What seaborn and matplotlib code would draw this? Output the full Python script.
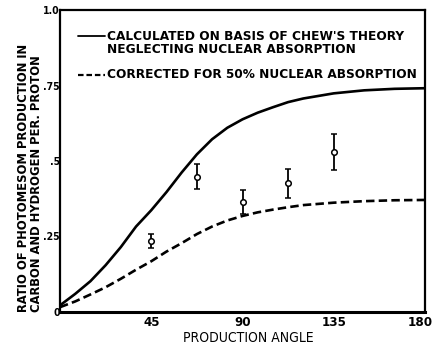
import matplotlib
matplotlib.use("Agg")
import matplotlib.pyplot as plt
import matplotlib.transforms as mtransforms
import seaborn as sns
import pandas as pd
from matplotlib.lines import Line2D

# Production angle (degrees) at which the theory curves are tabulated
angle = [0, 7.5, 15, 22.5, 30, 37.5, 45, 52.5, 60, 67.5, 75, 82.5, 90,
         97.5, 105, 112.5, 120, 135, 150, 165, 180]
# Chew's theory, no nuclear absorption
chew_ratio = [0.022, 0.060, 0.102, 0.155, 0.215, 0.283, 0.337, 0.397, 0.462,
              0.522, 0.572, 0.610, 0.638, 0.660, 0.678, 0.695, 0.707, 0.724,
              0.734, 0.739, 0.741]
# Same theory corrected for 50% nuclear absorption
corrected_ratio = [0.016, 0.035, 0.058, 0.082, 0.110, 0.140, 0.168, 0.200,
                   0.228, 0.258, 0.283, 0.303, 0.318, 0.330, 0.339, 0.347,
                   0.354, 0.362, 0.367, 0.370, 0.371]

# Measured ratios with their uncertainties
meas_angle = [45, 67.5, 90, 112.5, 135]
meas_ratio = [0.236, 0.448, 0.365, 0.426, 0.529]
meas_err = [0.023, 0.042, 0.040, 0.047, 0.060]

x_ticks = [45, 90, 135, 180]
x_tick_labels = ["45", "90", "135", "180"]
y_ticks = [0, 0.25, 0.5, 0.75, 1.0]
y_tick_labels = ["0", ".25", ".5", ".75", "1.0"]

sns.set_style("white")
plt.rcParams["font.family"] = ["DejaVu Sans"]
plt.rcParams["font.weight"] = "bold"
plt.rcParams["font.stretch"] = "condensed"
for key in ["text.color", "axes.labelcolor", "xtick.color", "ytick.color",
            "axes.edgecolor"]:
    plt.rcParams[key] = "black"

curves = pd.DataFrame({"angle": angle, "chew": chew_ratio,
                       "corrected": corrected_ratio})

fig = plt.figure(figsize=(4.33, 3.45), dpi=100)
ax = fig.add_axes([60 / 433, 33 / 345, 365 / 433, 302 / 345])

sns.lineplot(data=curves, x="angle", y="chew", ax=ax, color="black",
             linewidth=1.9)
sns.lineplot(data=curves, x="angle", y="corrected", ax=ax, color="black",
             linewidth=1.9, linestyle=(0, (3.2, 1.6)))
ax.errorbar(meas_angle, meas_ratio, yerr=meas_err, fmt="o", color="black",
            markerfacecolor="white", markeredgecolor="black", markersize=4,
            markeredgewidth=1.1, elinewidth=1.3, capsize=2.5, capthick=1.3)

ax.set_xlim(0, 180)
ax.set_ylim(0, 1.0)
ax.set_xticks(x_ticks)
ax.set_xticklabels(x_tick_labels)
ax.set_yticks(y_ticks)
ax.set_yticklabels(y_tick_labels)
ax.tick_params(axis="x", direction="in", length=9, width=1.3, pad=3,
               labelsize=9.5)
ax.tick_params(axis="y", direction="in", length=10, width=1.3, pad=0,
               labelsize=7.5)
# nudge the last angle label so it stays inside the figure
last = ax.get_xticklabels()[-1]
last.set_transform(last.get_transform() + mtransforms.ScaledTranslation(
    -5 / 100, 0, fig.dpi_scale_trans))
for side in ["left", "bottom", "right", "top"]:
    ax.spines[side].set_visible(True)
    ax.spines[side].set_color("black")
    ax.spines[side].set_linewidth(1.6)
ax.spines["bottom"].set_linewidth(2.2)

ax.set_xlabel("PRODUCTION ANGLE", fontsize=10)
ax.xaxis.set_label_coords(0.515, -0.063)
ax.set_ylabel("")

fig.text(30 / 433, 1 - 312 / 345,
         "RATIO OF PHOTOMESOM PRODUCTION IN\nCARBON AND HYDROGEN PER. PROTON",
         rotation=90, ha="center", va="bottom", multialignment="left",
         fontsize=9.3, linespacing=1.0)

# Key for the two curves
key_x0, key_x1, key_tx = 0.048, 0.123, 0.128
ax.add_line(Line2D([key_x0, key_x1], [0.915, 0.915], transform=ax.transAxes,
                   color="black", linewidth=1.3))
ax.text(key_tx, 0.935,
        "CALCULATED ON BASIS OF CHEW'S THEORY\nNEGLECTING NUCLEAR ABSORPTION",
        transform=ax.transAxes, ha="left", va="top", fontsize=9.7,
        linespacing=1.0)
ax.add_line(Line2D([key_x0, key_x1], [0.785, 0.785], transform=ax.transAxes,
                   color="black", linewidth=1.6, linestyle=(0, (2.5, 1.3))))
ax.text(key_tx, 0.785, "CORRECTED FOR 50% NUCLEAR ABSORPTION",
        transform=ax.transAxes, ha="left", va="center", fontsize=9.7)

fig.savefig("out.png", dpi=100)
